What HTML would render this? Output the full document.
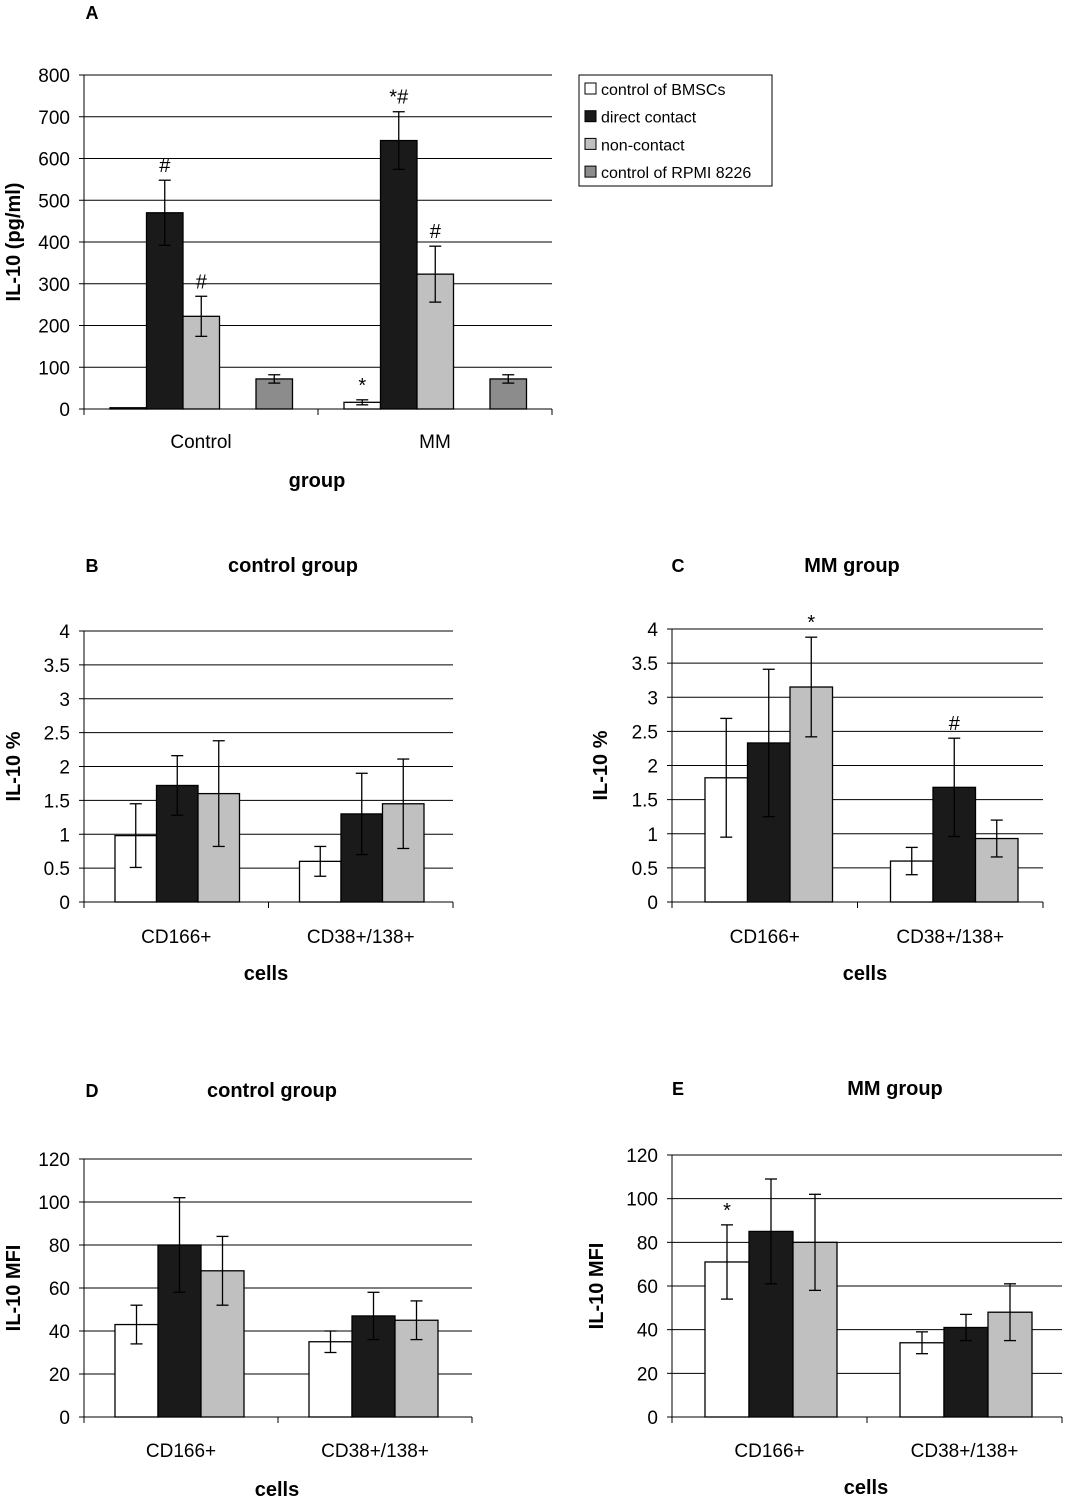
<!DOCTYPE html>
<html><head><meta charset="utf-8"><style>
body{margin:0;background:#fff}
svg{display:block;font-family:"Liberation Sans",Arial,sans-serif}
</style></head><body>
<svg id="s" width="1067" height="1497" viewBox="0 0 1067 1497"></svg>
<script>
// Panel A data
const aCategories=["Control","MM"];
const aSeries=["control of BMSCs","direct contact","non-contact","control of RPMI 8226"];
const aValues=[[3,16],[470,643],[222,323],[72,72]];
const aErrors=[[0,6],[78,69],[48,67],[10,10]];
const aTicks=[0,100,200,300,400,500,600,700,800];
// Panel B
const bCategories=["CD166+","CD38+/138+"];
const bValues=[[0.98,0.6],[1.72,1.3],[1.6,1.45]];
const bErrors=[[0.47,0.22],[0.44,0.6],[0.78,0.66]];
const pctTicks=[0,0.5,1,1.5,2,2.5,3,3.5,4];
// Panel C
const cValues=[[1.82,0.6],[2.33,1.68],[3.15,0.93]];
const cErrors=[[0.87,0.2],[1.08,0.72],[0.73,0.27]];
// Panel D
const dValues=[[43,35],[80,47],[68,45]];
const dErrors=[[9,5],[22,11],[16,9]];
const mfiTicks=[0,20,40,60,80,100,120];
// Panel E
const eValues=[[71,34],[85,41],[80,48]];
const eErrors=[[17,5],[24,6],[22,13]];

const NS="http://www.w3.org/2000/svg";
const svg=document.getElementById('s');
const fills=["#ffffff","#1a1a1a","#c0c0c0","#8c8c8c"];
function el(tag,attrs,parent){const e=document.createElementNS(NS,tag);for(const k in attrs)e.setAttribute(k,attrs[k]);(parent||svg).appendChild(e);return e;}
function txt(x,y,s,opt,name){const t=el('text',Object.assign({x:x,y:y,'font-size':19,'text-anchor':'middle',fill:'#000'},opt||{}));t.textContent=s;


return t;}

function panel(p){
  const g=el('g',{});
  
  
  const ymax=p.ticks[p.ticks.length-1];
  const Y=v=>p.y0-(v/ymax)*(p.y0-p.ytop);
  p.ticks.forEach(t=>{
    const y=Y(t);
    if(t>0){const l=el('line',{x1:p.x0,x2:p.x1,y1:y,y2:y,stroke:'#000','stroke-width':1},g);
    
    }
    el('line',{x1:p.x0-5,x2:p.x0,y1:y,y2:y,stroke:'#000'},g);
    const lab=txt(p.x0-14,y+7,String(t),{'text-anchor':'end'},'y-tick-label');g.appendChild(lab);
  });
  el('line',{x1:p.x0,x2:p.x0,y1:p.ytop,y2:p.y0,stroke:'#000'},g);
  el('line',{x1:p.x0,x2:p.x1,y1:p.y0,y2:p.y0,stroke:'#000'},g);
  const gw=(p.x1-p.x0)/p.cats.length;
  for(let i=0;i<=p.cats.length;i++)el('line',{x1:p.x0+i*gw,x2:p.x0+i*gw,y1:p.y0,y2:p.y0+6,stroke:'#000'},g);
  p.cats.forEach((c,ci)=>{
    const lab=txt(p.x0+gw*(ci+0.5),p.catY,c,{},'x-category-label');g.appendChild(lab);
    p.vals.forEach((sv,si)=>{
      const v=sv[ci],e=p.errs[si][ci];
      const bx=p.x0+gw*ci+p.off+p.slots[si]*p.bw;
      const r=el('rect',{x:bx,y:Y(v),width:p.bw,height:p.y0-Y(v),fill:fills[si],stroke:'#000','stroke-width':1.3},g);
      
      
      if(e>0){const cx=bx+p.bw/2;
        el('line',{x1:cx,x2:cx,y1:Y(v+e),y2:Y(v-e),stroke:'#000','stroke-width':1.3},g);
        el('line',{x1:cx-6,x2:cx+6,y1:Y(v+e),y2:Y(v+e),stroke:'#000','stroke-width':1.3},g);
        el('line',{x1:cx-6,x2:cx+6,y1:Y(v-e),y2:Y(v-e),stroke:'#000','stroke-width':1.3},g);}
      (p.marks||[]).forEach(m=>{if(m[0]===si&&m[1]===ci){const t=txt(bx+p.bw/2,Y(v+e)-8,m[2],{'font-size':20},'significance-mark');g.appendChild(t);}});
    });
  });
  const yt=txt(0,0,p.ytitle,{'font-weight':'bold','font-size':20,transform:`translate(${p.ytx},${(p.ytop+p.y0)/2}) rotate(-90)`},'y-axis-title');g.appendChild(yt);
  const xt=txt(p.xtx,p.xty,p.xtitle,{'font-weight':'bold','font-size':20},'x-axis-title');g.appendChild(xt);
}

panel({name:'panel-a',x0:84,x1:552,y0:409,ytop:75,ticks:aTicks,cats:aCategories,vals:aValues,errs:aErrors,bw:36.5,off:26,slots:[0,1,2,4],catY:448,ytitle:'IL-10 (pg/ml)',ytx:20,xtitle:'group',xtx:317,xty:487,
  marks:[[1,0,'#'],[2,0,'#'],[0,1,'*'],[1,1,'*#'],[2,1,'#']]});
panel({name:'panel-b',x0:84,x1:453,y0:902,ytop:631,ticks:pctTicks,cats:bCategories,vals:bValues,errs:bErrors,bw:41.5,off:31,slots:[0,1,2],catY:943,ytitle:'IL-10 %',ytx:20,xtitle:'cells',xtx:266,xty:980});
panel({name:'panel-c',x0:672,x1:1043,y0:902,ytop:629,ticks:pctTicks,cats:bCategories,vals:cValues,errs:cErrors,bw:42.5,off:33,slots:[0,1,2],catY:943,ytitle:'IL-10 %',ytx:607,xtitle:'cells',xtx:865,xty:980,
  marks:[[2,0,'*'],[1,1,'#']]});
panel({name:'panel-d',x0:84,x1:472,y0:1417,ytop:1159,ticks:mfiTicks,cats:bCategories,vals:dValues,errs:dErrors,bw:43,off:31,slots:[0,1,2],catY:1457,ytitle:'IL-10 MFI',ytx:20,xtitle:'cells',xtx:277,xty:1496});
panel({name:'panel-e',x0:672,x1:1062,y0:1417,ytop:1155,ticks:mfiTicks,cats:bCategories,vals:eValues,errs:eErrors,bw:44,off:33,slots:[0,1,2],catY:1457,ytitle:'IL-10 MFI',ytx:603,xtitle:'cells',xtx:866,xty:1494,
  marks:[[0,0,'*']]});

// panel letters and titles
[['A',92,19],['B',92,572],['C',678,572],['D',92,1097],['E',678,1095]].forEach(a=>{txt(a[1],a[2],a[0],{'font-weight':'bold','font-size':18},'panel-label');});
[['control group',293,572],['MM group',852,572],['control group',272,1097],['MM group',895,1095]].forEach(a=>{txt(a[1],a[2],a[0],{'font-weight':'bold','font-size':20},'panel-title');});

// legend
const lg=el('g',{});


el('rect',{x:579,y:75,width:193,height:111,fill:'#fff',stroke:'#000'},lg);
aSeries.forEach((s,i)=>{const y=89+i*27.7;
  const r=el('rect',{x:585,y:y-6,width:11,height:11,fill:fills[i],stroke:'#000'},lg);
  
  
  const t=txt(601,y+6,s,{'text-anchor':'start','font-size':16},'legend-entry');lg.appendChild(t);});
</script>
</body></html>
